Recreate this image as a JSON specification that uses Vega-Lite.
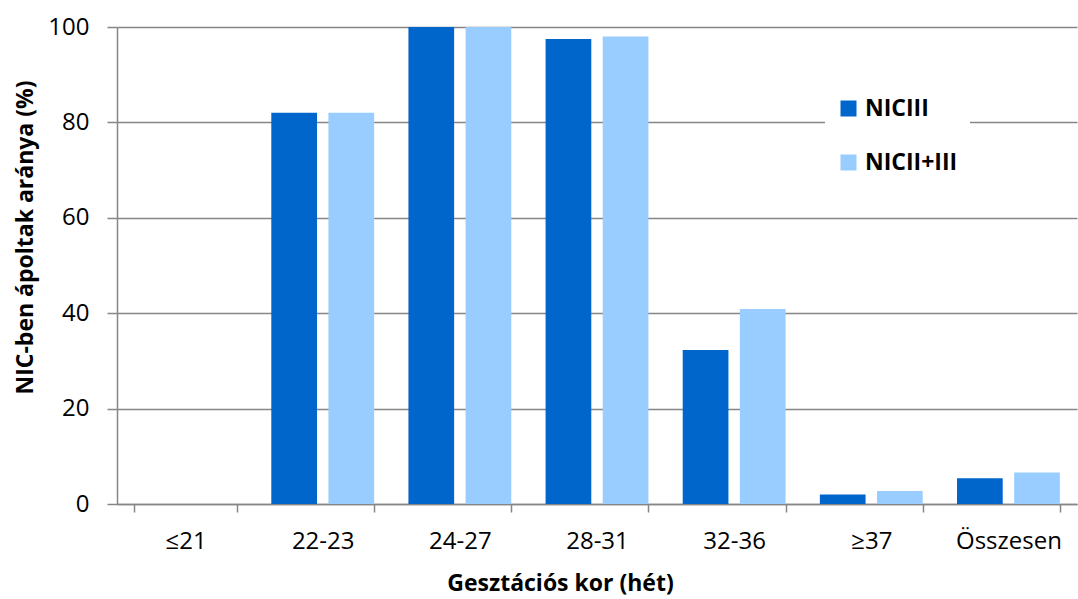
{
  "$schema": "https://vega.github.io/schema/vega-lite/v6.json",
  "width": 960,
  "height": 477,
  "autosize": {"type": "none"},
  "padding": {"left": 117, "top": 27, "right": 1, "bottom": 95},
  "background": "white",
  "config": {"font": "Open Sans", "view": {"stroke": null}},
  "data": {
    "values": [
      {"kor": "≤21", "csoport": "NICIII", "arany": 0},
      {"kor": "≤21", "csoport": "NICII+III", "arany": 0},
      {"kor": "22-23", "csoport": "NICIII", "arany": 82},
      {"kor": "22-23", "csoport": "NICII+III", "arany": 82},
      {"kor": "24-27", "csoport": "NICIII", "arany": 100},
      {"kor": "24-27", "csoport": "NICII+III", "arany": 100},
      {"kor": "28-31", "csoport": "NICIII", "arany": 97.5},
      {"kor": "28-31", "csoport": "NICII+III", "arany": 98},
      {"kor": "32-36", "csoport": "NICIII", "arany": 32.3},
      {"kor": "32-36", "csoport": "NICII+III", "arany": 40.9},
      {"kor": "≥37", "csoport": "NICIII", "arany": 2.0},
      {"kor": "≥37", "csoport": "NICII+III", "arany": 2.7},
      {"kor": "Összesen", "csoport": "NICIII", "arany": 5.4},
      {"kor": "Összesen", "csoport": "NICII+III", "arany": 6.6}
    ]
  },
  "mark": {"type": "bar"},
  "encoding": {
    "x": {
      "field": "kor",
      "type": "nominal",
      "sort": ["≤21", "22-23", "24-27", "28-31", "32-36", "≥37", "Összesen"],
      "scale": {"paddingInner": 0.25, "paddingOuter": 0.125},
      "axis": {
        "title": "Gesztációs kor (hét)",
        "titleFontSize": 23,
        "titleFontWeight": "bold",
        "titleColor": "#000000",
        "titleX": 443,
        "titleY": 86,
        "titleAlign": "center",
        "titleBaseline": "alphabetic",
        "labelAngle": 0,
        "labelFontSize": 24,
        "labelColor": "#000000",
        "labelPadding": 17,
        "tickBand": "extent",
        "tickSize": 8,
        "tickColor": "#868686",
        "tickWidth": 1.5,
        "domainColor": "#868686",
        "domainWidth": 1.5,
        "grid": false
      }
    },
    "xOffset": {
      "field": "csoport",
      "type": "nominal",
      "sort": ["NICIII", "NICII+III"],
      "scale": {"paddingInner": 0.2}
    },
    "y": {
      "field": "arany",
      "type": "quantitative",
      "scale": {"domain": [0, 100], "nice": false},
      "axis": {
        "title": "NIC-ben ápoltak aránya (%)",
        "titleFontSize": 23,
        "titleFontWeight": "bold",
        "titleColor": "#000000",
        "titleX": -92,
        "titleY": 210,
        "titleAlign": "center",
        "titleBaseline": "middle",
        "titleAngle": 270,
        "values": [0, 20, 40, 60, 80, 100],
        "labelFontSize": 24,
        "labelColor": "#000000",
        "labelPadding": 18,
        "tickSize": 10,
        "tickColor": "#868686",
        "tickWidth": 1.5,
        "domainColor": "#868686",
        "domainWidth": 1.5,
        "grid": true,
        "gridColor": "#868686",
        "gridWidth": 1.5
      }
    },
    "color": {
      "field": "csoport",
      "type": "nominal",
      "sort": ["NICIII", "NICII+III"],
      "scale": {"domain": ["NICIII", "NICII+III"], "range": ["#0066CC", "#99CCFF"]},
      "legend": {
        "title": null,
        "orient": "none",
        "legendX": 708,
        "legendY": 58,
        "fillColor": "white",
        "padding": 12,
        "symbolType": "square",
        "symbolSize": 256,
        "symbolStrokeWidth": 0,
        "labelFontSize": 23,
        "labelFontWeight": "bold",
        "labelColor": "#000000",
        "labelOffset": 5,
        "rowPadding": 30
      }
    }
  }
}
